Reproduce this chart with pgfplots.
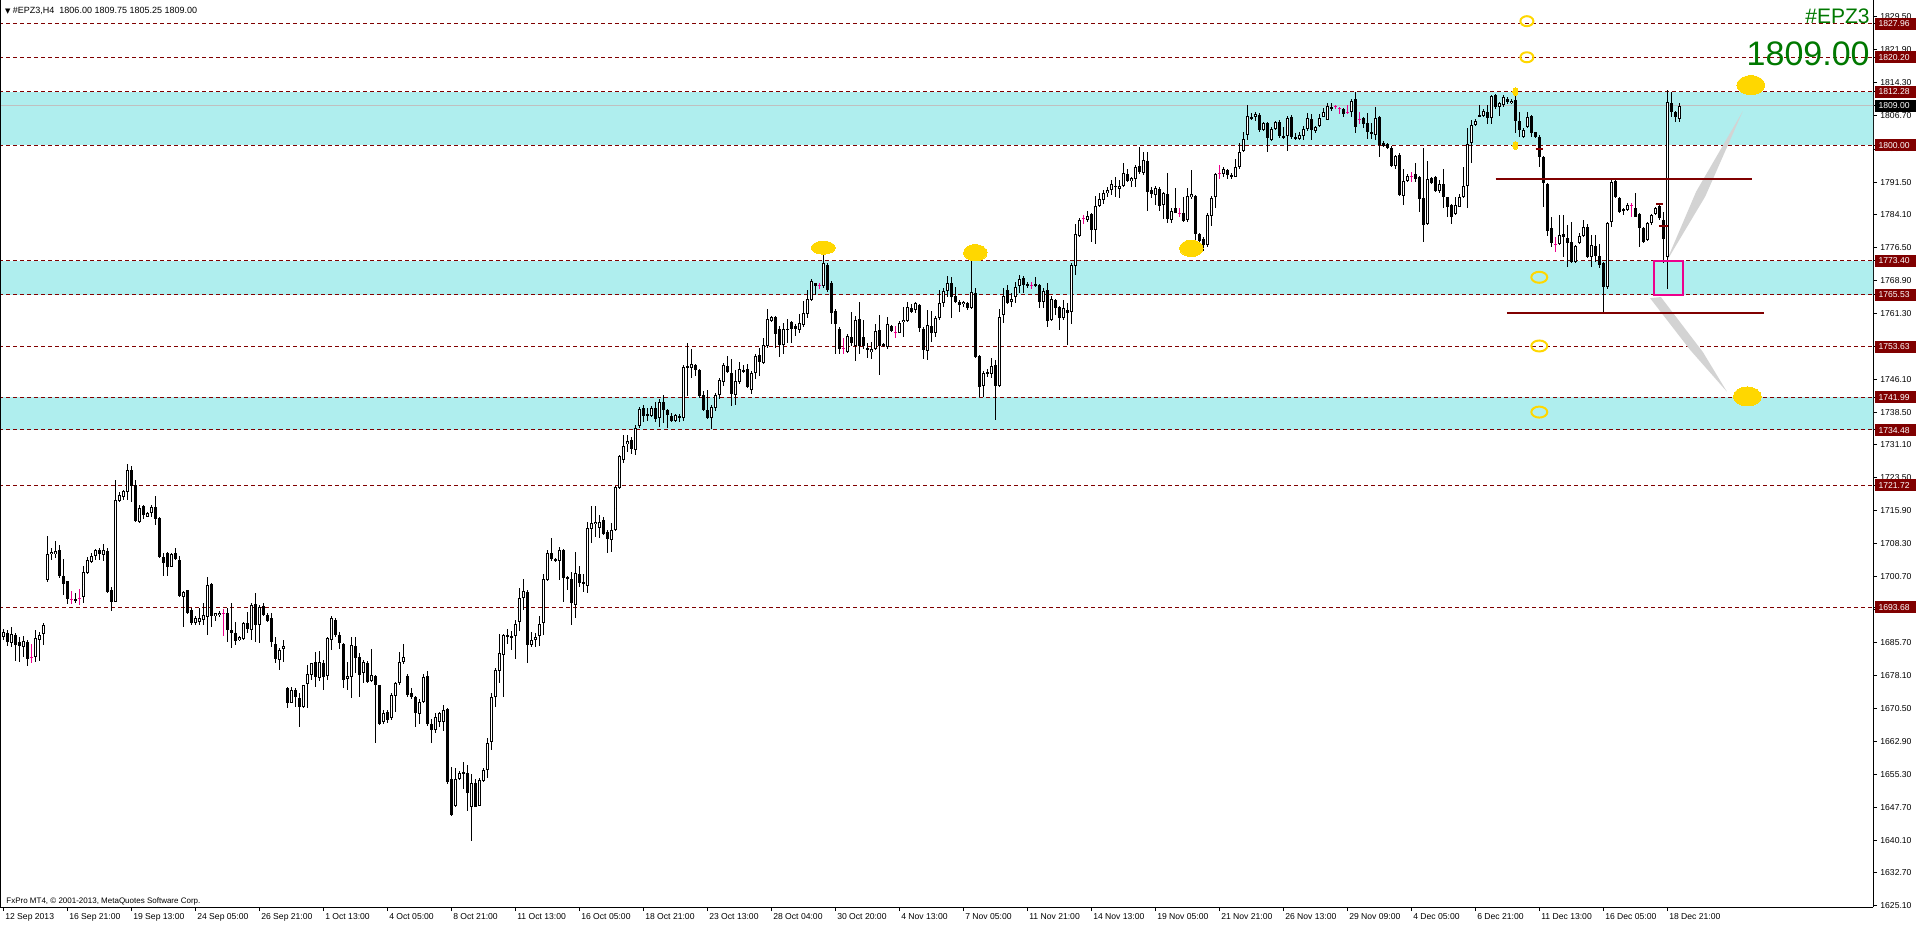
\documentclass[border=0pt]{standalone}
\usepackage{fontspec}
\setmainfont{Liberation Sans}
\newfontfamily\symfont{DejaVu Sans}
\usepackage{pgfplots}
\usepackage{pgfplotstable}
\pgfplotsset{compat=1.18}

\definecolor{lvred}{RGB}{128,0,0}
\definecolor{band}{RGB}{175,238,238}
\definecolor{gold}{RGB}{255,215,0}
\definecolor{wedge}{RGB}{211,211,211}
\definecolor{bidgrey}{RGB}{192,192,192}
\definecolor{mtgreen}{RGB}{0,120,0}

\newcommand\lv[1]{{\setlength\fboxsep{0.4pt}\colorbox{lvred}{\rule[-1.1pt]{0pt}{5.2pt}\makebox[19.7pt][l]{\hspace{1.2pt}\textcolor{white}{#1}}}}}
\newcommand\cur[1]{{\setlength\fboxsep{0.4pt}\colorbox{black}{\rule[-1.1pt]{0pt}{5.2pt}\makebox[19.7pt][l]{\hspace{1.2pt}\textcolor{white}{#1}}}}}

\pgfplotsset{
  candle/.style={only marks, mark=none, mark size=0pt,
    error bars/.cd, y dir=both, y explicit, error mark=none,
    error mark options={mark size=0pt, draw=none}},
  blob/.style={only marks, mark=*, gold, mark options={fill=gold, draw=gold, line width=0pt, xscale=#1}},
}

% EPZ3 H4 candles, bar index / open / high / low / close
\pgfplotstableread{
i o h l c
0 1686.8 1688.6 1686.2 1688.1
1 1687.9 1688.5 1684.8 1685.8
2 1685.6 1689.25 1684.65 1687.6
3 1687.3 1687.9 1681.4 1685.0
4 1685.8 1686.8 1681.2 1684.8
5 1684.5 1687.0 1682.3 1686.0
6 1685.8 1686.2 1680.2 1681.8
7 1682.2 1685.2 1681.0 1682.2
8 1682.2 1688.6 1681.2 1686.6
9 1686.2 1688.1 1681.4 1687.3
10 1687.5 1690.0 1685.0 1689.6
11 1700.0 1710.1 1699.6 1705.9
12 1705.9 1707.3 1704.6 1706.4
13 1705.9 1708.9 1705.0 1706.6
14 1706.9 1708.0 1700.4 1700.8
15 1700.9 1704.8 1696.5 1699.05
16 1699.75 1699.8 1694.5 1695.6
17 1695.6 1697.5 1694.5 1695.6
18 1695.6 1697.1 1694.6 1695.2
19 1695.8 1697.9 1694.2 1695.8
20 1696.0 1703.2 1694.8 1701.75
21 1701.5 1705.35 1701.35 1704.6
22 1704.2 1706.3 1704.0 1705.5
23 1705.6 1707.0 1704.6 1706.9
24 1706.9 1707.3 1704.6 1706.0
25 1705.7 1708.3 1704.4 1706.9
26 1706.65 1707.4 1696.9 1697.3
27 1697.7 1698.45 1692.9 1695.0
28 1695.0 1723.0 1694.9 1718.5
29 1718.2 1720.3 1718.0 1719.5
30 1719.15 1720.8 1718.4 1720.5
31 1720.3 1726.7 1718.4 1725.4
32 1725.3 1726.2 1718.0 1721.7
33 1721.8 1723.0 1713.4 1713.55
34 1713.4 1717.2 1713.0 1716.5
35 1717.0 1717.2 1714.0 1714.9
36 1714.5 1715.7 1714.4 1715.5
37 1715.5 1717.2 1714.4 1716.85
38 1716.7 1719.3 1712.6 1714.0
39 1714.2 1714.4 1705.0 1705.2
40 1705.2 1706.25 1700.9 1704.0
41 1706.1 1706.5 1700.9 1703.05
42 1703.05 1706.1 1702.9 1705.9
43 1706.1 1707.3 1704.6 1704.75
44 1704.6 1705.5 1696.0 1696.2
45 1696.0 1697.5 1689.25 1697.3
46 1697.7 1697.8 1692.2 1692.5
47 1693.2 1693.5 1689.6 1690.0
48 1690.2 1691.6 1689.6 1691.2
49 1690.4 1693.5 1689.6 1691.2
50 1690.8 1694.8 1689.6 1692.0
51 1691.4 1700.75 1687.3 1698.8
52 1699.05 1699.4 1689.1 1691.7
53 1691.7 1692.5 1690.6 1692.3
54 1692.0 1692.8 1691.5 1692.5
55 1692.2 1693.2 1687.0 1692.2
56 1692.3 1693.5 1685.8 1688.5
57 1688.5 1694.6 1684.3 1687.7
58 1687.9 1690.4 1685.0 1686.0
59 1686.2 1687.1 1686.0 1686.8
60 1686.4 1690.4 1686.3 1690.2
61 1690.2 1692.7 1687.7 1688.7
62 1688.6 1694.6 1686.2 1694.2
63 1694.4 1696.9 1685.8 1689.6
64 1689.6 1694.2 1685.6 1693.85
65 1694.1 1694.8 1691.8 1691.9
66 1691.9 1692.3 1690.4 1690.6
67 1691.2 1692.3 1684.65 1685.65
68 1685.3 1687.0 1681.0 1681.8
69 1681.6 1684.3 1679.3 1684.0
70 1684.2 1686.3 1681.2 1684.8
71 1675.1 1675.45 1670.5 1671.6
72 1671.8 1675.3 1671.6 1674.8
73 1674.7 1675.1 1670.85 1673.0
74 1672.8 1673.9 1666.25 1670.7
75 1670.85 1675.9 1670.5 1675.8
76 1676.0 1680.4 1670.5 1678.4
77 1678.15 1681.0 1677.0 1680.8
78 1681.2 1683.5 1675.45 1677.75
79 1677.4 1683.7 1676.85 1681.2
80 1680.8 1681.6 1674.8 1677.6
81 1677.9 1686.95 1677.0 1686.55
82 1686.3 1691.7 1683.9 1691.2
83 1690.8 1691.2 1686.8 1687.3
84 1687.3 1688.1 1684.1 1685.6
85 1685.3 1685.6 1675.1 1677.0
86 1677.3 1681.2 1674.7 1677.9
87 1677.6 1686.95 1672.8 1685.0
88 1684.8 1686.95 1678.5 1682.0
89 1682.35 1683.1 1673.0 1678.15
90 1678.5 1681.6 1676.4 1681.2
91 1681.0 1681.4 1676.4 1676.6
92 1676.85 1684.05 1676.6 1678.15
93 1677.9 1678.15 1662.6 1675.8
94 1675.8 1675.9 1666.6 1666.8
95 1667.4 1670.1 1666.9 1669.3
96 1669.7 1670.1 1667.2 1667.9
97 1668.2 1673.9 1667.9 1673.5
98 1673.3 1676.6 1669.7 1676.2
99 1676.2 1683.5 1675.8 1681.05
100 1681.2 1685.2 1680.65 1682.2
101 1678.0 1678.4 1673.1 1673.5
102 1673.9 1675.1 1672.55 1673.1
103 1673.0 1673.3 1666.25 1669.3
104 1669.2 1672.55 1666.9 1672.0
105 1672.0 1678.4 1671.6 1677.6
106 1677.9 1679.15 1666.4 1666.9
107 1666.9 1668.0 1662.4 1665.6
108 1665.5 1669.3 1664.7 1668.6
109 1667.4 1669.7 1666.2 1669.3
110 1667.4 1671.2 1665.3 1670.2
111 1670.4 1670.6 1653.05 1653.5
112 1654.3 1657.1 1645.8 1645.9
113 1647.9 1656.8 1647.7 1654.3
114 1654.3 1656.1 1654.0 1655.6
115 1655.5 1658.2 1651.9 1655.8
116 1655.6 1657.5 1646.95 1650.9
117 1647.9 1655.4 1639.9 1653.3
118 1653.3 1654.3 1647.7 1647.9
119 1648.1 1654.5 1647.9 1654.0
120 1653.7 1656.8 1653.5 1656.3
121 1656.2 1663.65 1654.5 1662.45
122 1662.7 1673.95 1661.0 1673.2
123 1673.2 1679.8 1670.9 1679.3
124 1679.0 1687.5 1676.3 1683.1
125 1682.8 1687.5 1673.2 1687.3
126 1686.9 1688.7 1685.2 1687.3
127 1687.1 1688.2 1683.8 1686.6
128 1687.1 1690.9 1681.9 1689.9
129 1690.3 1698.1 1688.2 1695.8
130 1695.8 1700.3 1693.0 1697.5
131 1697.3 1697.8 1681.0 1685.0
132 1685.0 1688.1 1684.5 1686.2
133 1686.2 1687.8 1684.5 1686.9
134 1687.1 1691.8 1684.7 1689.9
135 1690.1 1701.4 1687.3 1700.3
136 1699.9 1706.8 1699.7 1706.2
137 1706.2 1709.6 1704.4 1704.9
138 1704.9 1705.1 1704.2 1704.4
139 1704.4 1707.5 1700.0 1706.8
140 1706.8 1707.2 1695.0 1700.5
141 1700.6 1700.9 1697.6 1700.3
142 1700.3 1701.9 1689.7 1694.6
143 1694.3 1706.5 1691.2 1701.6
144 1701.4 1703.2 1698.4 1699.3
145 1699.5 1701.4 1697.2 1699.0
146 1698.7 1713.4 1696.9 1711.9
147 1711.8 1717.1 1708.4 1713.1
148 1712.8 1716.9 1709.8 1713.4
149 1711.9 1715.0 1709.6 1713.4
150 1713.8 1714.5 1710.3 1710.6
151 1711.0 1711.5 1706.3 1709.4
152 1709.1 1713.1 1706.5 1711.5
153 1711.5 1721.6 1711.2 1721.3
154 1721.1 1728.8 1720.9 1728.4
155 1727.5 1733.45 1726.9 1730.9
156 1731.2 1733.3 1729.5 1731.9
157 1732.1 1732.8 1729.05 1730.0
158 1730.0 1735.6 1728.8 1734.95
159 1735.3 1739.8 1735.0 1739.4
160 1739.6 1740.3 1736.3 1737.8
161 1738.2 1739.6 1736.6 1737.8
162 1737.8 1740.0 1737.5 1739.6
163 1739.6 1740.96 1736.3 1737.0
164 1737.2 1741.7 1735.1 1740.96
165 1741.0 1742.5 1736.1 1739.1
166 1739.1 1739.4 1735.0 1738.0
167 1737.8 1738.4 1736.3 1736.6
168 1736.6 1738.2 1736.3 1738.0
169 1737.7 1738.2 1736.3 1737.2
170 1737.2 1749.4 1736.6 1749.0
171 1749.2 1754.4 1742.2 1748.7
172 1748.7 1753.1 1746.4 1749.7
173 1749.4 1749.7 1746.9 1748.3
174 1748.3 1748.5 1741.9 1742.2
175 1742.5 1743.4 1738.9 1739.1
176 1739.1 1743.8 1737.0 1737.2
177 1737.2 1740.3 1734.7 1739.8
178 1739.6 1743.1 1738.9 1742.5
179 1742.65 1746.4 1741.7 1745.9
180 1745.6 1750.0 1744.5 1749.4
181 1749.2 1751.6 1747.5 1747.8
182 1747.5 1750.9 1740.0 1742.8
183 1742.65 1748.3 1740.3 1745.65
184 1745.5 1750.2 1745.0 1748.5
185 1748.3 1749.4 1747.5 1747.8
186 1748.5 1749.7 1744.1 1744.4
187 1743.8 1748.1 1742.8 1747.5
188 1747.5 1752.0 1746.2 1751.6
189 1751.8 1753.4 1746.9 1750.1
190 1750.0 1755.6 1749.7 1754.1
191 1753.7 1762.2 1753.4 1760.0
192 1759.6 1760.65 1759.3 1760.5
193 1760.5 1760.65 1753.4 1756.5
194 1757.8 1758.4 1751.3 1754.1
195 1754.1 1759.1 1751.9 1757.8
196 1757.5 1760.0 1754.4 1757.8
197 1759.3 1759.5 1754.6 1757.8
198 1758.4 1758.8 1756.2 1757.8
199 1757.5 1761.2 1756.9 1759.1
200 1758.6 1764.2 1758.1 1761.4
201 1761.2 1766.6 1760.3 1764.7
202 1764.4 1769.1 1764.2 1768.7
203 1768.2 1768.4 1765.6 1767.5
204 1767.8 1768.4 1767.0 1767.8
205 1767.5 1775.5 1767.2 1772.85
206 1772.5 1772.85 1766.3 1766.8
207 1768.2 1768.7 1758.8 1761.4
208 1761.9 1762.2 1751.9 1758.8
209 1757.8 1758.1 1751.9 1753.2
210 1753.2 1755.6 1751.9 1753.2
211 1752.5 1756.5 1752.2 1756.2
212 1755.96 1761.6 1753.7 1754.4
213 1753.9 1760.65 1750.35 1759.7
214 1760.0 1764.0 1751.9 1753.9
215 1755.8 1759.8 1753.2 1753.9
216 1753.4 1754.4 1750.97 1752.9
217 1752.5 1754.8 1750.7 1753.0
218 1753.2 1758.8 1752.9 1757.3
219 1757.6 1760.9 1747.1 1753.8
220 1754.2 1754.4 1753.6 1753.8
221 1753.6 1760.4 1753.2 1758.8
222 1758.4 1758.6 1757.1 1757.3
223 1756.9 1758.4 1755.6 1756.9
224 1756.9 1759.6 1756.7 1759.2
225 1759.4 1762.7 1755.9 1759.9
226 1759.6 1764.0 1759.4 1762.7
227 1762.6 1763.4 1761.3 1761.7
228 1762.1 1764.0 1761.3 1763.6
229 1763.2 1763.4 1757.1 1757.9
230 1757.6 1758.1 1750.7 1752.9
231 1752.7 1762.1 1750.6 1758.6
232 1758.4 1761.9 1754.8 1756.7
233 1756.9 1760.6 1755.9 1760.2
234 1760.2 1766.8 1759.8 1763.8
235 1763.8 1767.1 1762.8 1766.5
236 1766.5 1769.9 1764.97 1768.2
237 1768.4 1769.7 1760.2 1765.1
238 1765.3 1767.3 1763.8 1763.97
239 1763.97 1764.4 1761.7 1763.2
240 1763.5 1764.2 1762.8 1764.0
241 1763.8 1764.0 1762.1 1762.5
242 1762.5 1774.3 1762.3 1766.3
243 1765.9 1767.1 1750.97 1751.3
244 1751.5 1751.7 1742.0 1744.4
245 1744.6 1748.1 1742.0 1747.5
246 1747.5 1748.6 1746.7 1747.9
247 1747.4 1750.97 1746.4 1749.2
248 1749.4 1750.6 1736.8 1744.6
249 1744.6 1762.4 1744.45 1760.4
250 1760.9 1767.1 1759.0 1765.3
251 1766.8 1767.8 1763.5 1763.7
252 1763.97 1765.9 1762.7 1764.7
253 1765.0 1768.6 1763.6 1767.3
254 1767.5 1770.1 1765.9 1769.1
255 1769.4 1769.9 1765.9 1767.8
256 1768.0 1768.6 1767.1 1767.6
257 1767.8 1768.6 1766.8 1767.8
258 1768.0 1769.6 1767.4 1767.6
259 1767.8 1768.0 1762.5 1763.97
260 1763.97 1767.1 1762.5 1766.5
261 1766.7 1768.4 1758.1 1759.6
262 1759.8 1765.3 1759.6 1764.5
263 1764.5 1764.7 1760.9 1762.5
264 1762.8 1762.97 1757.5 1760.2
265 1760.2 1764.5 1759.9 1762.5
266 1762.2 1763.6 1754.0 1761.5
267 1761.7 1772.9 1758.97 1772.4
268 1772.2 1781.97 1770.1 1779.6
269 1779.1 1783.2 1778.9 1782.8
270 1783.2 1783.9 1781.9 1783.2
271 1782.8 1784.9 1782.4 1783.7
272 1784.2 1784.5 1777.8 1780.5
273 1780.5 1788.3 1777.2 1785.97
274 1785.97 1788.9 1785.7 1787.5
275 1787.4 1789.7 1786.5 1789.1
276 1788.9 1790.4 1787.99 1789.7
277 1789.7 1791.97 1788.5 1791.0
278 1790.7 1792.6 1788.1 1790.3
279 1790.0 1791.97 1787.8 1790.6
280 1790.6 1795.8 1790.4 1793.5
281 1793.4 1794.6 1791.6 1791.8
282 1791.7 1792.7 1790.4 1792.4
283 1792.1 1795.4 1790.3 1795.0
284 1795.2 1799.5 1793.4 1793.7
285 1793.5 1798.5 1793.1 1796.6
286 1796.4 1798.5 1784.9 1789.3
287 1789.7 1790.4 1787.8 1788.8
288 1788.5 1790.6 1786.2 1790.1
289 1789.8 1790.3 1784.9 1786.0
290 1786.2 1789.1 1782.9 1788.9
291 1788.7 1793.5 1782.2 1782.9
292 1782.8 1785.5 1782.0 1784.9
293 1785.5 1790.1 1784.3 1784.5
294 1784.2 1785.5 1783.4 1784.2
295 1784.5 1788.0 1782.2 1782.6
296 1782.8 1790.1 1782.4 1788.3
297 1788.0 1794.3 1787.5 1788.7
298 1788.3 1788.5 1774.3 1779.6
299 1779.6 1779.9 1777.2 1778.0
300 1778.3 1778.8 1775.7 1777.0
301 1777.0 1784.3 1776.6 1783.9
302 1783.7 1788.3 1781.4 1787.75
303 1787.99 1793.5 1785.5 1793.4
304 1793.4 1795.4 1792.1 1793.4
305 1793.4 1795.0 1792.7 1794.6
306 1794.3 1794.4 1792.1 1793.1
307 1793.1 1793.5 1792.1 1792.6
308 1792.7 1796.9 1792.6 1794.9
309 1794.9 1800.4 1794.6 1798.5
310 1798.7 1803.1 1798.5 1801.3
311 1802.3 1809.2 1801.2 1806.7
312 1806.5 1807.3 1805.8 1805.9
313 1806.5 1807.7 1805.6 1807.2
314 1806.9 1807.3 1803.1 1803.5
315 1803.5 1805.4 1803.3 1805.0
316 1805.0 1805.4 1798.5 1801.6
317 1801.2 1804.1 1801.0 1803.6
318 1803.6 1805.6 1803.5 1805.2
319 1805.4 1805.8 1801.6 1802.1
320 1802.1 1804.2 1801.3 1801.8
321 1802.1 1806.7 1798.7 1806.2
322 1806.4 1806.9 1801.3 1801.9
323 1801.9 1802.7 1801.2 1801.6
324 1801.3 1803.1 1801.2 1802.3
325 1802.1 1804.4 1801.2 1803.6
326 1803.6 1807.3 1803.3 1806.2
327 1805.9 1807.1 1801.2 1803.5
328 1803.3 1804.4 1802.7 1804.1
329 1804.4 1807.1 1804.1 1806.2
330 1806.5 1808.5 1806.4 1807.7
331 1805.9 1809.6 1805.8 1808.99
332 1808.8 1809.8 1807.9 1808.2
333 1808.8 1809.2 1808.2 1808.8
334 1808.5 1808.8 1807.2 1808.5
335 1808.2 1808.5 1806.4 1807.2
336 1807.5 1809.2 1807.2 1807.5
337 1807.7 1810.7 1806.5 1810.2
338 1810.5 1812.3 1802.9 1804.1
339 1805.9 1807.5 1804.9 1805.9
340 1806.2 1806.5 1803.9 1804.9
341 1805.2 1807.3 1801.3 1803.1
342 1803.1 1805.2 1801.3 1802.6
343 1802.3 1808.8 1801.2 1806.2
344 1806.4 1806.7 1797.2 1800.0
345 1800.4 1801.0 1799.6 1799.8
346 1800.2 1800.6 1799.0 1799.3
347 1799.3 1799.8 1794.9 1795.2
348 1795.2 1797.7 1794.4 1797.5
349 1797.7 1798.3 1788.3 1788.5
350 1788.3 1794.4 1786.2 1791.8
351 1791.8 1793.4 1791.6 1792.9
352 1792.7 1793.7 1791.6 1792.7
353 1793.3 1795.8 1791.6 1792.1
354 1792.6 1792.9 1784.7 1787.5
355 1787.75 1799.3 1777.8 1781.6
356 1781.9 1796.4 1781.6 1792.1
357 1792.4 1792.7 1791.1 1791.4
358 1792.6 1792.9 1789.3 1789.5
359 1789.5 1791.97 1789.05 1791.1
360 1791.1 1794.4 1785.5 1788.0
361 1788.0 1788.1 1783.5 1785.7
362 1786.2 1786.5 1781.9 1783.5
363 1784.2 1788.1 1783.9 1786.2
364 1785.8 1788.75 1785.7 1788.0
365 1788.0 1794.9 1787.75 1790.6
366 1790.6 1803.85 1785.5 1800.25
367 1800.4 1805.8 1795.95 1804.6
368 1804.6 1805.9 1804.4 1805.6
369 1806.9 1809.2 1806.4 1806.5
370 1806.7 1808.2 1806.4 1807.9
371 1807.7 1809.2 1804.9 1806.2
372 1806.2 1811.5 1804.9 1811.3
373 1811.5 1811.75 1808.2 1808.8
374 1808.7 1809.98 1806.7 1809.6
375 1809.2 1811.5 1808.8 1811.1
376 1810.5 1811.1 1809.5 1809.98
377 1809.6 1810.5 1809.45 1810.2
378 1810.4 1811.5 1802.7 1805.6
379 1805.6 1807.7 1801.8 1803.5
380 1801.8 1803.85 1801.55 1803.5
381 1804.1 1807.7 1803.85 1806.4
382 1806.7 1806.9 1801.8 1802.7
383 1802.9 1803.1 1801.55 1801.9
384 1801.8 1802.3 1794.9 1797.3
385 1797.3 1797.5 1785.8 1791.4
386 1791.05 1791.2 1779.1 1780.3
387 1780.9 1783.4 1776.5 1777.6
388 1777.25 1778.8 1775.5 1777.25
389 1777.25 1783.9 1777.0 1779.3
390 1779.6 1783.9 1774.2 1778.8
391 1778.6 1781.6 1771.9 1777.6
392 1777.8 1782.4 1773.0 1773.2
393 1773.2 1777.0 1773.0 1776.8
394 1777.6 1779.9 1777.25 1779.1
395 1779.1 1782.8 1778.9 1781.2
396 1781.2 1781.85 1773.97 1774.3
397 1774.2 1779.3 1771.9 1777.0
398 1776.8 1779.3 1773.2 1774.5
399 1774.5 1777.25 1771.65 1772.4
400 1772.95 1773.2 1761.7 1767.3
401 1767.45 1782.4 1766.8 1782.2
402 1782.4 1791.97 1781.2 1791.6
403 1791.8 1792.1 1787.75 1787.99
404 1787.75 1788.1 1784.5 1784.7
405 1785.2 1785.45 1783.9 1784.9
406 1785.06 1786.6 1784.9 1786.2
407 1786.0 1786.6 1783.5 1786.0
408 1785.45 1788.9 1783.4 1783.5
409 1784.2 1784.5 1776.5 1780.9
410 1780.9 1781.1 1777.6 1777.8
411 1778.2 1782.4 1778.0 1782.0
412 1782.0 1784.2 1781.7 1783.9
413 1784.2 1785.8 1783.9 1785.45
414 1786.0 1786.2 1782.8 1783.2
415 1782.8 1784.7 1772.8 1778.4
416 1774.2 1812.7 1766.8 1809.98
417 1809.6 1812.3 1806.4 1807.5
418 1807.7 1807.9 1805.4 1806.4
419 1806.00 1809.75 1805.25 1809.00
}\candles

\begin{document}
\begin{tikzpicture}
\begin{axis}[
    width=936.5pt, height=453.5pt, scale only axis,
    xmin=-0.825, xmax=467.43, ymin=1624.78, ymax=1833.37,
    axis x line*=bottom, axis y line*=right,
    axis line style={black, line width=0.5pt},
    tick align=outside, major tick length=2pt,
    tick style={black, line width=0.5pt},
    tick label style={font=\fontsize{4.3}{5}\selectfont, inner sep=0pt},
    xtick={0,16,...,416},
    xticklabels={12 Sep 2013,16 Sep 21:00,19 Sep 13:00,24 Sep 05:00,26 Sep 21:00,1 Oct 13:00,4 Oct 05:00,8 Oct 21:00,11 Oct 13:00,16 Oct 05:00,18 Oct 21:00,23 Oct 13:00,28 Oct 04:00,30 Oct 20:00,4 Nov 13:00,7 Nov 05:00,11 Nov 21:00,14 Nov 13:00,19 Nov 05:00,21 Nov 21:00,26 Nov 13:00,29 Nov 09:00,4 Dec 05:00,6 Dec 21:00,11 Dec 13:00,16 Dec 05:00,18 Dec 21:00},
    xticklabel style={anchor=north west, xshift=0.8pt, yshift=-1pt},
    ytick={1829.5,1821.9,1814.3,1806.7,1799.1,1791.5,1784.1,1776.5,1768.9,1761.3,1753.7,1746.1,1738.5,1731.1,1723.5,1715.9,1708.3,1700.7,1693.1,1685.7,1678.1,1670.5,1662.9,1655.3,1647.7,1640.1,1632.7,1625.1},
    yticklabels={1829.50,1821.90,1814.30,1806.70,1799.10,1791.50,1784.10,1776.50,1768.90,1761.30,1753.70,1746.10,1738.50,1731.10,1723.50,1715.90,1708.30,1700.70,1693.10,1685.70,1678.10,1670.50,1662.90,1655.30,1647.70,1640.10,1632.70,1625.10},
    yticklabel style={anchor=west, xshift=1.5pt},
    extra y ticks={1827.96,1820.20,1812.28,1809.00,1800.00,1773.40,1765.53,1753.63,1741.99,1734.48,1721.72,1693.68},
    extra y tick labels={\lv{1827.96},\lv{1820.20},\lv{1812.28},\cur{1809.00},\lv{1800.00},\lv{1773.40},\lv{1765.53},\lv{1753.63},\lv{1741.99},\lv{1734.48},\lv{1721.72},\lv{1693.68}},
    extra y tick style={yticklabel style={xshift=-2.5pt}},
]
% support / resistance zones
\addplot[fill=band, draw=none] coordinates {(-1,1800) (468,1800) (468,1812.28) (-1,1812.28)} -- cycle;
\addplot[fill=band, draw=none] coordinates {(-1,1765.53) (468,1765.53) (468,1773.40) (-1,1773.40)} -- cycle;
\addplot[fill=band, draw=none] coordinates {(-1,1734.48) (468,1734.48) (468,1741.99) (-1,1741.99)} -- cycle;

\pgfplotsinvokeforeach{1827.96,1820.20,1812.28,1800.00,1773.40,1765.53,1753.63,1741.99,1734.48,1721.72,1693.68}{
  \addplot[lvred, line width=0.5pt, dash pattern=on 2pt off 1.5pt] coordinates {(-1,#1) (468,#1)};
}
\addplot[bidgrey, line width=0.5pt] coordinates {(-1,1809) (468,1809)};

% grey arrows
\addplot[fill=wedge, draw=none] coordinates {(415.7,1773.1) (423.2,1789.28) (434.9,1807.84) (425.5,1788.2)} -- cycle;
\addplot[fill=wedge, draw=none] coordinates {(411.7,1764.8) (414.4,1765.06) (424.9,1752.4) (430.9,1743.3) (421.7,1752.9)} -- cycle;

% wicks
\addplot[candle, error bar style={line width=0.5pt, black},
  /pgfplots/restrict expr to domain={abs(\thisrow{c}-\thisrow{o})}{0.001:10000}]
  table[x=i, y expr={(\thisrow{h}+\thisrow{l})/2}, y error expr={(\thisrow{h}-\thisrow{l})/2}] {\candles};
% bear bodies
\addplot[candle, error bar style={line width=1.5pt, black},
  /pgfplots/restrict expr to domain={\thisrow{o}-\thisrow{c}}{0.001:10000}]
  table[x=i, y expr={(\thisrow{o}+\thisrow{c})/2}, y error expr={max((\thisrow{o}-\thisrow{c})/2,0.115)}] {\candles};
% bull bodies
\addplot[candle, error bar style={line width=1.5pt, black},
  /pgfplots/restrict expr to domain={\thisrow{c}-\thisrow{o}}{0.001:10000}]
  table[x=i, y expr={(\thisrow{o}+\thisrow{c})/2}, y error expr={max((\thisrow{c}-\thisrow{o})/2,0.115)}] {\candles};
\addplot[candle, error bar style={line width=0.5pt, white},
  /pgfplots/restrict expr to domain={\thisrow{c}-\thisrow{o}}{0.001:10000}]
  table[x=i, y expr={(\thisrow{o}+\thisrow{c})/2}, y error expr={max((\thisrow{c}-\thisrow{o})/2-0.23,0)}] {\candles};
% doji
\addplot[candle, error bar style={line width=0.5pt, magenta},
  /pgfplots/restrict expr to domain={abs(\thisrow{c}-\thisrow{o})}{-1:0.001}]
  table[x=i, y expr={(\thisrow{h}+\thisrow{l})/2}, y error expr={(\thisrow{h}-\thisrow{l})/2}] {\candles};
\addplot[only marks, mark=-, mark size=0.8pt, mark options={magenta, line width=0.5pt},
  restrict expr to domain={abs(\thisrow{c}-\thisrow{o})}{-1:0.001}]
  table[x=i, y=o] {\candles};

% range lines and markers
\addplot[lvred, line width=1pt] coordinates {(373.1,1792.1) (437.1,1792.1)};
\addplot[lvred, line width=1pt] coordinates {(375.9,1761.4) (440.1,1761.4)};
\addplot[lvred, line width=1pt] coordinates {(383.1,1799.1) (385.0,1799.1)};
\addplot[lvred, line width=1pt] coordinates {(413.2,1786.45) (415.0,1786.45)};
\addplot[lvred, line width=1pt] coordinates {(413.9,1781.5) (416.2,1781.5)};
\addplot[magenta, line width=1pt] coordinates {(412.75,1765.6) (420.0,1765.6) (420.0,1773.4) (412.75,1773.4)} -- cycle;

% yellow marks
\addplot[blob=1.85, mark size=3.25pt] coordinates {(205,1776.4)};
\addplot[blob=1.43, mark size=4.1pt] coordinates {(243,1775.25) (297,1776.26)};
\addplot[blob=1.47, mark size=4.75pt] coordinates {(436.9,1813.8) (436,1742.2)};
\addplot[blob=0.62, mark size=2pt] coordinates {(378,1812.28) (378,1799.9)};
\addplot[only marks, mark=o, gold, mark size=2.5pt, mark options={draw=gold, line width=1pt, xscale=1.3}] coordinates {(380.9,1828.5) (380.9,1820.2)};
\addplot[only marks, mark=o, gold, mark size=2.75pt, mark options={draw=gold, line width=1pt, xscale=1.45}] coordinates {(384,1769.6) (384,1753.8) (384,1738.6)};

% texts
\node[anchor=base east, inner sep=0pt, text=mtgreen, font=\fontsize{10.5}{12}\selectfont] at (rel axis cs:0.9984,0.9746) {\#EPZ3};
\node[anchor=base east, inner sep=0pt, text=mtgreen, font=\fontsize{17}{20}\selectfont] at (rel axis cs:0.9984,0.9283) {1809.00};
\node[anchor=base west, inner sep=0pt, font=\fontsize{4.5}{5}\selectfont] at (rel axis cs:0.0025,0.9846) {{\symfont\fontsize{3.5}{4}\selectfont ▼}\ \#EPZ3,H4\ \ 1806.00 1809.75 1805.25 1809.00};
\node[anchor=base west, inner sep=0pt, font=\fontsize{4}{5}\selectfont] at (rel axis cs:0.0032,0.0044) {FxPro MT4, © 2001-2013, MetaQuotes Software Corp.};
\end{axis}
\draw[black, line width=0.5pt] (0.25pt,0) -- (0.25pt,453.5pt);
\pgfresetboundingbox
\useasboundingbox (0,-10.5pt) rectangle (958pt,453.5pt);
\end{tikzpicture}
\end{document}
